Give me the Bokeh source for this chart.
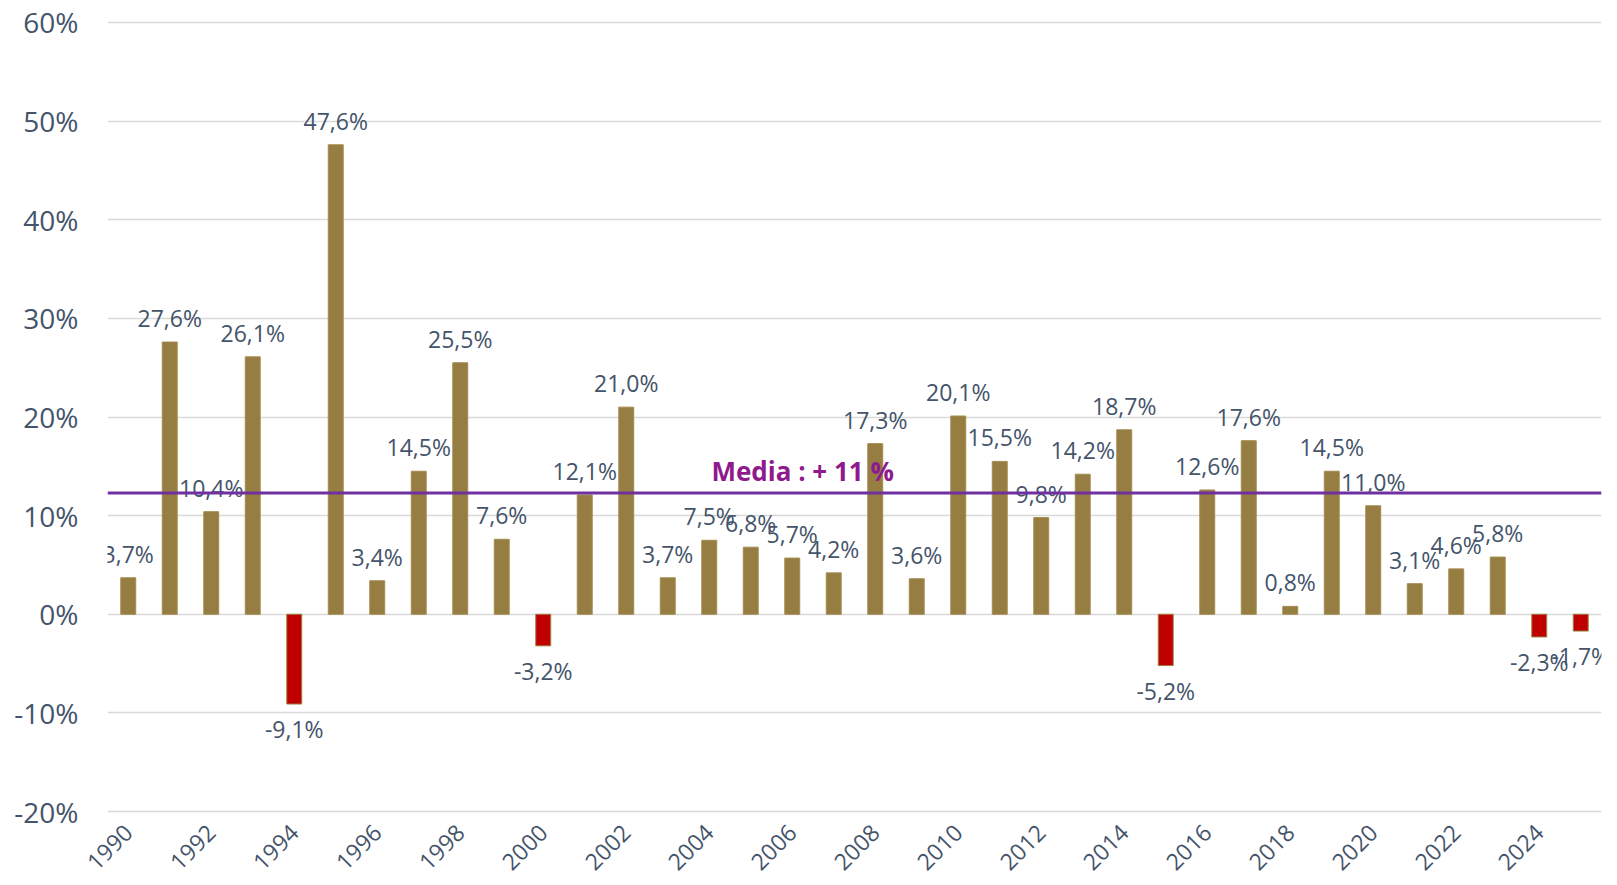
from bokeh.plotting import figure
from bokeh.models import ColumnDataSource, FixedTicker, PrintfTickFormatter, Span, Label, LabelSet
from bokeh.core.properties import value
from bokeh.embed import file_html
from bokeh.resources import INLINE
from math import pi

years = list(range(1990, 2026))
values = [3.7, 27.6, 10.4, 26.1, -9.1, 47.6, 3.4, 14.5, 25.5, 7.6,
          -3.2, 12.1, 21.0, 3.7, 7.5, 6.8, 5.7, 4.2, 17.3, 3.6,
          20.1, 15.5, 9.8, 14.2, 18.7, -5.2, 12.6, 17.6, 0.8, 14.5,
          11.0, 3.1, 4.6, 5.8, -2.3, -1.7]
tick_years = list(range(1990, 2025, 2))
y_ticks = [-20, -10, 0, 10, 20, 30, 40, 50, 60]
media_value = 12.3
media_text = "Media : + 11 %"

GOLD = "#967D41"
RED = "#C00000"
TXT = "#44546A"
FONT = "Open Sans"

labels = [("%.1f%%" % v).replace(".", ",") for v in values]
pos = [v >= 0 for v in values]
src_pos = ColumnDataSource(dict(x=[y for y, p in zip(years, pos) if p],
                                top=[v for v, p in zip(values, pos) if p],
                                lab=[l for l, p in zip(labels, pos) if p]))
src_neg = ColumnDataSource(dict(x=[y for y, p in zip(years, pos) if not p],
                                top=[v for v, p in zip(values, pos) if not p],
                                lab=[l for l, p in zip(labels, pos) if not p]))

p = figure(width=1610, height=880, output_backend="svg", toolbar_location=None,
           x_range=(1989.5, 2025.5), y_range=(-20.3, 60.3),
           min_border_left=107, min_border_right=9, min_border_top=19, min_border_bottom=60)
p.outline_line_color = None
p.background_fill_color = "white"
p.border_fill_color = "white"

p.vbar(x="x", top="top", bottom=0, width=0.36, source=src_pos,
       fill_color=GOLD, line_color="#A48B50", line_width=1)
p.vbar(x="x", top="top", bottom=0, width=0.36, source=src_neg,
       fill_color=RED, line_color="#9B7F3E", line_width=1)

p.add_layout(LabelSet(x="x", y="top", text="lab", source=src_pos, text_align="center",
                      text_baseline="alphabetic", y_offset=15, text_font=value(FONT),
                      text_font_size=value("23px"), text_color=value(TXT)))
p.add_layout(LabelSet(x="x", y="top", text="lab", source=src_neg, text_align="center",
                      text_baseline="alphabetic", y_offset=-34, text_font=value(FONT),
                      text_font_size=value("23px"), text_color=value(TXT)))

p.add_layout(Span(location=media_value, dimension="width", line_color="#7030A0", line_width=3))
p.add_layout(Label(x=2006.25, y=media_value, text=media_text, text_align="center",
                   text_baseline="alphabetic", y_offset=22, text_font=FONT,
                   text_font_size="26px", text_font_style="bold", text_color="#8E1A8E"))

p.xgrid.grid_line_color = None
p.ygrid.grid_line_color = "#D9D9D9"
p.ygrid.grid_line_width = 1.5
p.yaxis.ticker = FixedTicker(ticks=y_ticks)
p.xaxis.ticker = FixedTicker(ticks=tick_years)
p.yaxis.formatter = PrintfTickFormatter(format="%d%%")

for ax in (p.xaxis, p.yaxis):
    ax.axis_line_color = None
    ax.major_tick_line_color = None
    ax.minor_tick_line_color = None
    ax.major_label_text_color = TXT
    ax.major_label_text_font = FONT

p.yaxis.major_label_text_font_size = "28px"
p.yaxis.major_label_standoff = 23
p.xaxis.major_label_text_font_size = "23px"
p.xaxis.major_label_orientation = pi / 4
p.xaxis.major_label_standoff = 8

open("out.html", "w").write(file_html(p, INLINE))
